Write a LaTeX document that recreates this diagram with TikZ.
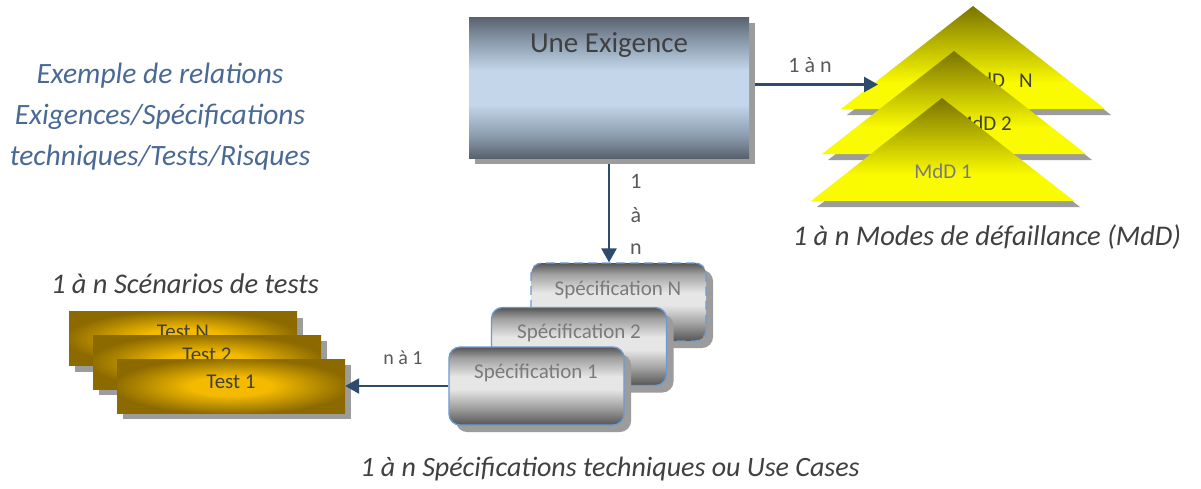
\documentclass[tikz,border=0pt]{standalone}
\usepackage{fontspec}
\setmainfont{Carlito}
\usetikzlibrary{arrows.meta,shadows,calc}
\definecolor{exd}{HTML}{58626E}
\definecolor{exm}{HTML}{8D9DAF}
\definecolor{exl}{HTML}{C3D6EA}
\definecolor{spd}{HTML}{555555}
\definecolor{spm}{HTML}{A0A0A0}
\definecolor{spl}{HTML}{E6E6E6}
\definecolor{tg}{HTML}{F3BA00}
\definecolor{td}{HTML}{8C6A00}
\definecolor{olv}{HTML}{7A7400}
\definecolor{ylw}{HTML}{FAFA00}
\definecolor{shd}{HTML}{9C9C9C}
\definecolor{arr}{HTML}{2F4B6B}
\definecolor{lbl}{HTML}{595959}
\definecolor{cap}{HTML}{404040}
\definecolor{bluet}{HTML}{4A6A96}
\definecolor{specborder}{HTML}{6A9BD2}
\pgfdeclareverticalshading{exshade}{100bp}{color(0bp)=(exd); color(25bp)=(exd); color(33bp)=(exm); color(44bp)=(exl); color(56bp)=(exl); color(66bp)=(exm); color(75bp)=(exd); color(100bp)=(exd)}
\pgfdeclareverticalshading{spshade}{100bp}{color(0bp)=(spd); color(25bp)=(spd); color(36bp)=(spm); color(48bp)=(spl); color(56bp)=(spl); color(68bp)=(spm); color(75bp)=(spd); color(100bp)=(spd)}
\pgfdeclareradialshading{tshade}{\pgfpoint{0bp}{0bp}}{color(0bp)=(tg); color(9bp)=(tg); color(26bp)=(td); color(50bp)=(td)}
\pgfdeclareverticalshading{trshade}{100bp}{color(0bp)=(ylw); color(25bp)=(ylw); color(38bp)=(ylw); color(75bp)=(olv); color(100bp)=(olv)}
\tikzset{
  exbox/.style={rectangle, minimum width=280pt, minimum height=141pt, inner sep=0pt,
    shading=exshade, drop shadow={shadow xshift=6pt, shadow yshift=-6pt, fill=shd, opacity=1}},
  specbox/.style={rectangle, rounded corners=11pt, minimum width=175pt, minimum height=78pt, inner sep=0pt,
    shading=spshade, draw=specborder, line width=1.3pt,
    drop shadow={shadow xshift=7pt, shadow yshift=-7pt, fill=shd, opacity=1}},
  testbox/.style={rectangle, minimum width=228pt, minimum height=54pt, inner sep=0pt,
    shading=tshade, drop shadow={shadow xshift=6pt, shadow yshift=-6pt, fill=shd, opacity=1}},
  trifill/.style={shading=trshade},
  trishadow/.style={fill=shd},
  conn/.style={draw=arr, line width=2.5pt, -{Triangle[length=14pt,width=15pt]}},
  lbltext/.style={text=lbl, font=\fontsize{22}{26}\selectfont, inner sep=0pt},
  captext/.style={text=cap, font=\fontsize{28.5}{33}\selectfont\itshape, inner sep=0pt},
  boxtext/.style={inner sep=0pt, font=\fontsize{21}{25}\selectfont},
}
\begin{document}
\begin{tikzpicture}[x=1pt,y=-1pt]
\useasboundingbox[fill=white] (0,0) rectangle (1201,488);

% left blue title
\node[text=bluet, font=\fontsize{29.5}{41}\selectfont\itshape, align=center, inner sep=0pt] (title) at (160,117)
  {Exemple de relations\\Exigences/Spécifications\\techniques/Tests/Risques};

% Une Exigence
\node[exbox] (exig) at (609,87.5) {};
\node[boxtext, text=cap, font=\fontsize{29}{34}\selectfont] (exigt) at (609,45) {Une Exigence};

% triangles MdD
\coordinate (nA) at (973,6);   \coordinate (nL) at (841,109);  \coordinate (nR) at (1105,109);
\coordinate (dA) at (954,51);  \coordinate (dL) at (822,154);  \coordinate (dR) at (1086,154);
\coordinate (uA) at (942,98);  \coordinate (uL) at (811,201);  \coordinate (uR) at (1074,201);
\path[trishadow] ($(nA)+(6,6)$) -- ($(nL)+(6,6)$) -- ($(nR)+(6,6)$) -- cycle;
\path[trifill] (nA) -- (nL) -- (nR) -- cycle;
\node[boxtext, text=cap, anchor=east] (mddN) at (1033,80) {MdD~~~N};
\path[trishadow] ($(dA)+(6,6)$) -- ($(dL)+(6,6)$) -- ($(dR)+(6,6)$) -- cycle;
\path[trifill] (dA) -- (dL) -- (dR) -- cycle;
\node[boxtext, text=cap, anchor=east] (mdd2) at (1012,123) {MdD 2};
\path[trishadow] ($(uA)+(6,6)$) -- ($(uL)+(6,6)$) -- ($(uR)+(6,6)$) -- cycle;
\path[trifill] (uA) -- (uL) -- (uR) -- cycle;
\node[boxtext, text=lbl!80] (mdd1) at (943,171) {MdD 1};
\node[captext] (mddcap) at (987,237) {1 à n Modes de défaillance (MdD)};

% Specifications
\node[specbox, dash pattern=on 9pt off 5pt] (specN) at (618.5,302) {};
\node[boxtext, text=lbl!80] (specNt) at (618,290) {Spécification N};
\node[specbox] (spec2) at (579,346.5) {};
\node[boxtext, text=lbl!80] (spec2t) at (579,333) {Spécification 2};
\node[specbox] (spec1) at (536.5,386) {};
\node[boxtext, text=lbl!80] (spec1t) at (536,373) {Spécification 1};
\node[captext, font=\fontsize{28}{33}\selectfont\itshape] (speccap) at (610,469) {1 à n Spécifications techniques ou Use Cases};

% Tests
\node[testbox] (testN) at (183,338.5) {};
\node[boxtext, text=cap] (testNt) at (183,332) {Test N};
\node[testbox] (test2) at (207,362) {};
\node[boxtext, text=cap] (test2t) at (207,355) {Test 2};
\node[testbox] (test1) at (231,386) {};
\node[boxtext, text=cap] (test1t) at (231,382) {Test 1};
\node[captext] (testcap) at (185,284) {1 à n Scénarios de tests};

% connectors
\coordinate (mddin) at (878,84.5);
\draw[conn] (exig.east |- mddin) ++(6,0) coordinate (exout) -- (mddin);
\node[lbltext] (l1) at (810,65) {1 à n};
\draw[conn] (exig.south) ++(0,6) -- (exig.south |- specN.north);
\node[lbltext] (v1) at (636,181) {1};
\node[lbltext] (v2) at (636,215) {à};
\node[lbltext] (v3) at (636,249) {n};
\draw[conn] (spec1.west) -- (test1.east);
\node[lbltext, font=\fontsize{20}{24}\selectfont] (l3) at (403,358) {n à 1};
\end{tikzpicture}
\end{document}
